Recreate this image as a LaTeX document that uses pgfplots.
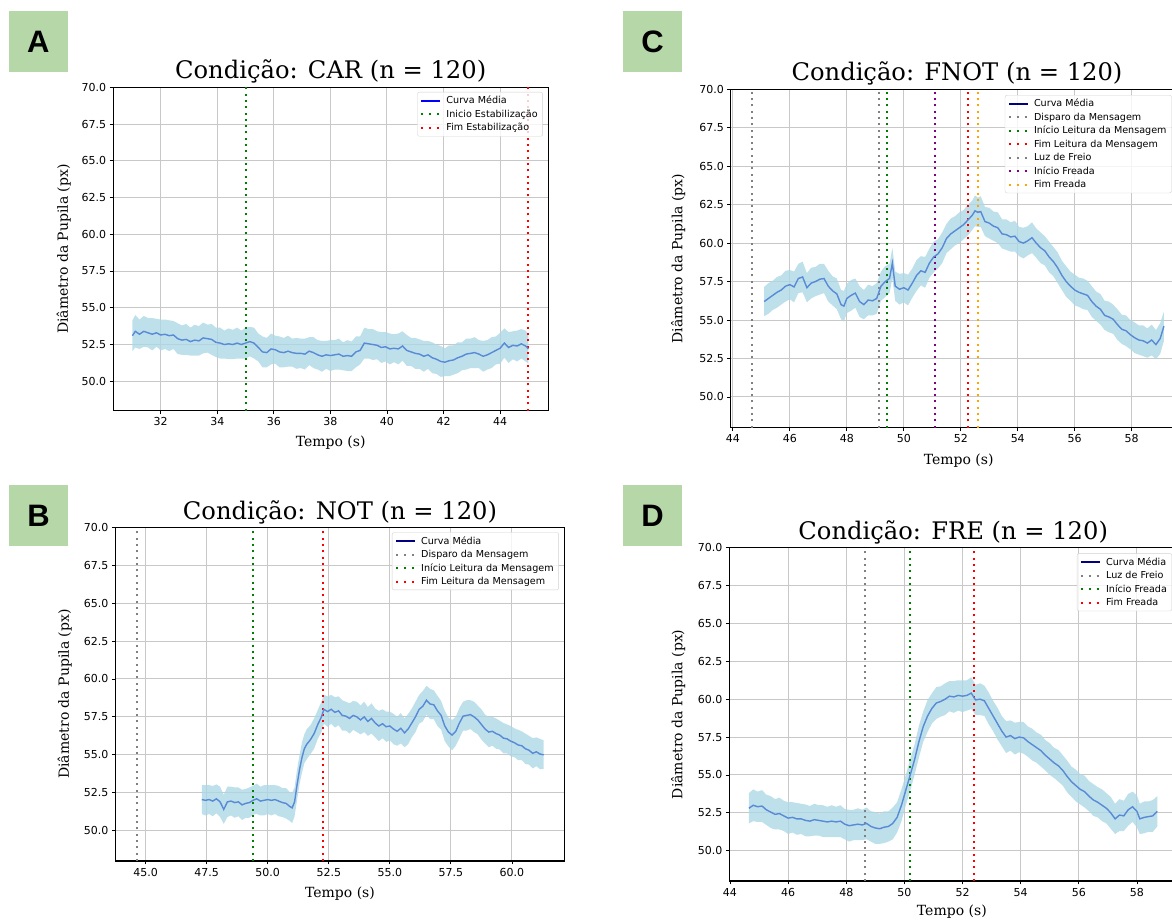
\documentclass[border=0pt]{standalone}
\usepackage{pgfplots}
\pgfplotsset{compat=1.18}
\usepackage{pgfplotstable}
\usepgfplotslibrary{fillbetween}
\usepackage{fontspec}
\setmainfont{DejaVu Serif}
\newfontfamily\dvs{DejaVu Sans}
\newfontfamily\lsans{Liberation Sans}

\definecolor{bandc}{RGB}{173,216,230}
\definecolor{linec}{RGB}{88,138,214}
\definecolor{gridc}{RGB}{200,200,200}
\definecolor{legc}{RGB}{210,210,210}
\definecolor{mgreen}{RGB}{0,128,0}
\definecolor{mred}{RGB}{255,0,0}
\definecolor{mgray}{RGB}{128,128,128}
\definecolor{mpurple}{RGB}{128,0,128}
\definecolor{morange}{RGB}{255,165,0}
\definecolor{mnavy}{RGB}{0,0,128}
\definecolor{mblue}{RGB}{0,0,255}
\definecolor{lgreen}{RGB}{182,215,168}

\pgfplotstableread{
t m s
31.00 53.10 1.05
31.10 53.40 1.10
31.25 53.20 1.00
31.40 53.40 1.05
31.55 53.30 1.00
31.70 53.20 1.10
31.85 53.30 0.95
32.00 53.15 1.05
32.15 53.20 1.00
32.30 53.10 1.05
32.45 53.15 0.95
32.60 52.90 1.05
32.75 52.80 1.00
32.90 52.85 1.05
33.05 52.70 0.95
33.20 52.80 1.05
33.35 52.75 1.00
33.50 52.95 1.05
33.65 52.90 0.95
33.80 52.85 1.05
33.95 52.65 1.00
34.10 52.60 1.05
34.25 52.50 0.95
34.40 52.55 1.05
34.55 52.50 1.00
34.70 52.60 1.05
34.85 52.50 0.95
35.00 52.60 1.05
35.15 52.70 1.00
35.30 52.60 1.05
35.45 52.30 0.95
35.60 52.00 1.05
35.75 51.95 1.00
35.90 52.20 1.05
36.05 52.15 0.95
36.20 52.00 1.05
36.35 51.95 1.00
36.50 52.05 1.05
36.65 51.95 0.95
36.80 51.90 1.05
36.95 51.90 1.00
37.10 51.85 1.05
37.25 52.05 0.95
37.40 51.95 1.05
37.55 51.80 1.00
37.70 51.70 1.05
37.85 51.80 0.95
38.00 51.75 1.05
38.15 51.80 1.00
38.30 51.85 1.05
38.45 51.70 0.95
38.60 51.75 1.05
38.75 51.70 1.00
38.90 52.00 1.05
39.05 52.10 0.95
39.20 52.60 1.05
39.35 52.55 1.00
39.50 52.50 1.05
39.65 52.45 0.95
39.80 52.30 1.05
39.95 52.35 1.00
40.10 52.20 1.05
40.25 52.25 0.95
40.40 52.20 1.05
40.55 52.40 1.00
40.70 52.10 1.05
40.85 52.00 0.95
41.00 51.90 1.05
41.15 51.85 1.00
41.30 51.70 1.05
41.45 51.80 0.95
41.60 51.60 1.05
41.75 51.50 1.00
41.90 51.35 1.05
42.05 51.30 0.95
42.20 51.40 1.05
42.35 51.45 1.00
42.50 51.60 1.05
42.65 51.70 0.95
42.80 51.85 1.05
42.95 51.90 1.00
43.10 51.95 1.05
43.25 51.85 0.95
43.40 51.70 1.05
43.55 51.80 1.00
43.70 51.95 1.05
43.85 52.10 0.95
44.00 52.25 1.05
44.15 52.60 1.00
44.30 52.30 1.05
44.45 52.45 0.95
44.60 52.40 1.05
44.75 52.55 1.00
44.90 52.40 1.05
45.00 52.20 1.00
}\tA

\pgfplotstableread{
t m s
47.30 52.05 0.95
47.45 52.00 1.00
47.60 52.05 0.95
47.75 51.95 1.00
47.90 52.10 0.95
48.05 51.90 1.00
48.20 51.40 0.95
48.35 51.90 1.00
48.50 51.95 0.95
48.65 51.85 1.00
48.80 51.90 0.95
48.95 51.70 1.00
49.10 51.80 0.95
49.25 51.85 1.00
49.40 52.00 0.95
49.55 52.10 1.00
49.70 51.95 0.95
49.85 52.00 1.00
50.00 52.05 0.95
50.15 52.00 1.00
50.30 52.05 0.95
50.45 51.95 1.00
50.60 51.85 0.95
50.75 51.80 1.00
50.90 51.60 0.95
51.00 51.50 1.00
51.10 51.90 0.95
51.20 53.00 1.00
51.30 54.00 0.95
51.40 54.80 1.00
51.50 55.40 0.95
51.60 55.70 1.00
51.75 56.00 0.95
51.90 56.40 1.00
52.05 57.00 0.95
52.20 57.50 1.00
52.30 58.00 0.95
52.45 57.85 1.00
52.60 58.00 0.95
52.75 57.80 1.00
52.90 57.90 0.95
53.05 57.60 1.00
53.20 57.55 0.95
53.35 57.40 1.00
53.50 57.60 0.95
53.65 57.50 1.00
53.80 57.30 0.95
53.95 57.50 1.00
54.10 57.20 0.95
54.25 57.40 1.00
54.40 57.10 0.95
54.55 56.90 1.00
54.70 57.05 0.95
54.85 56.85 1.00
55.00 56.90 0.95
55.15 56.70 1.00
55.30 56.55 0.95
55.45 56.75 1.00
55.60 56.45 0.95
55.75 56.70 1.00
55.90 57.10 0.95
56.05 57.50 1.00
56.20 58.00 0.95
56.35 58.20 1.00
56.50 58.60 0.95
56.65 58.35 1.00
56.80 58.30 0.95
56.95 57.90 1.00
57.10 57.60 0.95
57.25 56.90 1.00
57.40 56.50 0.95
57.55 56.30 1.00
57.70 56.55 0.95
57.85 57.10 1.00
58.00 57.55 0.95
58.15 57.60 1.00
58.30 57.65 0.95
58.45 57.50 1.00
58.60 57.30 0.95
58.75 57.00 1.00
58.90 56.70 0.95
59.05 56.50 1.00
59.20 56.55 0.95
59.35 56.40 1.00
59.50 56.30 0.95
59.65 56.10 1.00
59.80 56.05 0.95
59.95 55.90 1.00
60.10 55.80 0.95
60.25 55.65 1.00
60.40 55.60 0.95
60.55 55.40 1.00
60.70 55.30 0.95
60.85 55.10 1.00
61.00 55.20 0.95
61.15 55.05 1.00
61.30 55.00 0.95
}\tB

\pgfplotstableread{
t m s
45.10 56.20 0.95
45.25 56.40 1.00
45.40 56.60 0.95
45.55 56.80 1.00
45.70 56.95 0.95
45.85 57.20 1.00
46.00 57.30 0.95
46.15 57.15 1.00
46.30 57.70 0.95
46.45 57.80 1.00
46.60 57.10 0.95
46.75 57.40 1.00
46.90 57.50 0.95
47.05 57.65 1.00
47.20 57.70 0.95
47.35 57.20 1.00
47.50 56.90 0.95
47.65 56.70 1.00
47.80 56.00 0.95
47.90 55.90 1.00
48.00 56.40 0.95
48.15 56.60 1.00
48.30 56.75 0.95
48.45 56.20 1.00
48.60 56.00 0.95
48.75 56.30 1.00
48.90 56.25 0.95
49.05 56.40 1.00
49.20 57.20 0.95
49.35 57.50 1.00
49.50 57.70 0.95
49.60 58.70 1.00
49.70 57.20 0.95
49.85 57.00 1.00
50.00 57.10 0.95
50.15 56.95 1.00
50.30 57.40 0.95
50.45 57.90 1.00
50.60 58.20 0.95
50.75 58.10 1.00
50.90 58.70 0.95
51.05 59.10 1.00
51.20 59.30 0.95
51.35 59.70 1.00
51.50 60.30 0.95
51.65 60.60 1.00
51.80 60.80 0.95
51.95 61.00 1.00
52.10 61.20 0.95
52.25 61.50 1.00
52.40 61.80 0.95
52.50 62.10 1.00
52.60 62.00 0.95
52.70 62.05 1.00
52.85 61.40 0.95
53.00 61.30 1.00
53.15 61.10 0.95
53.30 61.00 1.00
53.45 60.60 0.95
53.60 60.55 1.00
53.75 60.40 0.95
53.90 60.45 1.00
54.05 60.10 0.95
54.20 60.00 1.00
54.35 60.15 0.95
54.50 60.35 1.00
54.65 60.00 0.95
54.80 59.70 1.00
54.95 59.50 0.95
55.10 59.10 1.00
55.25 58.80 0.95
55.40 58.40 1.00
55.55 57.90 0.95
55.70 57.50 1.00
55.85 57.20 0.95
56.00 56.95 1.00
56.15 56.80 0.95
56.30 56.70 1.00
56.45 56.60 0.95
56.60 56.20 1.00
56.75 55.90 0.95
56.90 55.70 1.00
57.05 55.30 0.95
57.20 55.20 1.00
57.35 55.05 0.95
57.50 54.70 1.00
57.65 54.40 0.95
57.80 54.30 1.00
57.95 54.05 0.95
58.10 53.85 1.00
58.25 53.70 0.95
58.40 53.65 1.00
58.55 53.50 0.95
58.70 53.70 1.00
58.85 53.40 0.95
59.00 53.80 1.00
59.13 54.60 0.95
}\tC

\pgfplotstableread{
t m s
44.65 52.80 1.00
44.80 53.00 1.05
44.95 52.90 1.00
45.10 52.95 1.05
45.25 52.70 1.00
45.40 52.55 1.05
45.55 52.40 1.00
45.70 52.45 1.05
45.85 52.30 1.00
46.00 52.15 1.05
46.15 52.20 1.00
46.30 52.10 1.05
46.45 52.10 1.00
46.60 52.00 1.05
46.75 51.95 1.00
46.90 52.05 1.05
47.05 52.00 1.00
47.20 51.95 1.05
47.35 51.90 1.00
47.50 51.95 1.05
47.65 51.90 1.00
47.80 51.95 1.05
47.95 51.75 1.00
48.10 51.65 1.05
48.25 51.70 1.00
48.40 51.75 1.05
48.55 51.70 1.00
48.70 51.80 1.05
48.85 51.60 1.00
49.00 51.50 1.05
49.15 51.45 1.00
49.30 51.55 1.05
49.45 51.60 1.00
49.60 51.80 1.05
49.75 52.20 1.00
49.90 53.00 1.05
50.05 54.00 1.00
50.20 55.00 1.05
50.35 56.00 1.00
50.50 57.20 1.05
50.65 58.20 1.00
50.80 58.90 1.05
50.95 59.40 1.00
51.10 59.75 1.05
51.25 59.85 1.00
51.40 60.00 1.05
51.55 60.20 1.00
51.70 60.15 1.05
51.85 60.25 1.00
52.00 60.20 1.05
52.15 60.25 1.00
52.30 60.40 1.05
52.45 59.95 1.00
52.60 60.00 1.05
52.75 59.90 1.00
52.90 59.40 1.05
53.05 58.90 1.00
53.20 58.40 1.05
53.35 57.90 1.00
53.50 57.50 1.05
53.65 57.60 1.00
53.80 57.40 1.05
53.95 57.50 1.00
54.10 57.45 1.05
54.25 57.20 1.00
54.40 57.00 1.05
54.55 56.80 1.00
54.70 56.60 1.05
54.85 56.30 1.00
55.00 56.05 1.05
55.15 55.80 1.00
55.30 55.60 1.05
55.45 55.30 1.00
55.60 54.90 1.05
55.75 54.55 1.00
55.90 54.30 1.05
56.05 54.05 1.00
56.20 53.90 1.05
56.35 53.60 1.00
56.50 53.35 1.05
56.65 53.20 1.00
56.80 53.00 1.05
56.95 52.80 1.00
57.10 52.50 1.05
57.25 52.10 1.00
57.40 52.35 1.05
57.55 52.30 1.00
57.70 52.70 1.05
57.85 52.90 1.00
58.00 52.60 1.05
58.10 52.10 1.00
58.25 52.20 1.05
58.40 52.25 1.00
58.55 52.30 1.05
58.70 52.60 1.00
}\tD

\pgfplotsset{
  panel/.style={
    scale only axis,
    ymin=48, ymax=70,
    ytick={50,52.5,55,57.5,60,62.5,65,67.5,70},
    yticklabel style={/pgf/number format/fixed, /pgf/number format/fixed zerofill, /pgf/number format/precision=1},
    tick align=outside, major tick length=3.5pt,
    tick pos=left,
    tick style={black, line width=0.8pt},
    axis line style={black, line width=1.1pt},
    grid=major, major grid style={gridc, line width=1pt},
    tick label style={font=\dvs\fontsize{11}{13}\selectfont},
    /pgf/number format/assume math mode=true,
    label style={font=\fontsize{14}{16}\selectfont},
    xlabel={Tempo (s)},
    ylabel={Diâmetro da Pupila (px)},
    xlabel style={anchor=center},
    ylabel style={anchor=center},
    legend cell align=left,
    legend style={font=\dvs\fontsize{9.6}{11}\selectfont, draw=legc, rounded corners=2pt,
      fill=white, fill opacity=0.8, text opacity=1, draw opacity=1,
      inner xsep=3pt, inner ysep=2pt, row sep=0.5pt, column sep=3pt, anchor=north east},
    legend image code/.code={\draw[##1] (0pt,0pt) -- (19pt,0pt);},
  },
  vl/.style={line width=2pt, dash pattern=on 2pt off 4.3pt, forget plot},
  vlleg/.style={line width=2pt, dash pattern=on 2pt off 5.8pt},
}

\begin{document}
\begin{tikzpicture}[x=1pt,y=1pt]

% ---------- A ----------
\begin{axis}[panel, at={(113.2pt,509.3pt)}, anchor=south west,
  width=435pt, height=323.4pt, xmin=30.32, xmax=45.7, xtick={32,34,...,44},
  xlabel style={at={(axis description cs:0.5,-0.0999)}},
  ylabel style={at={(axis description cs:-0.114,0.5)}},
  legend style={at={(axis description cs:0.9878,0.9855)}}]
\addlegendimage{mblue, line width=1.5pt}
\addlegendentry{Curva Média}
\addlegendimage{mgreen, vlleg}
\addlegendentry{Inicio Estabilização}
\addlegendimage{mred, vlleg}
\addlegendentry{Fim Estabilização}
\addplot[mgreen, vl] coordinates {(35,48) (35,70)};
\addplot[mred, vl] coordinates {(45,48) (45,70)};
\addplot[draw=none, name path=aU, forget plot] table[x=t, y expr=\thisrow{m}+\thisrow{s}] {\tA};
\addplot[draw=none, name path=aL, forget plot] table[x=t, y expr=\thisrow{m}-\thisrow{s}] {\tA};
\addplot[bandc, fill opacity=0.8, forget plot] fill between[of=aU and aL];
\addplot[linec, line width=1.4pt, forget plot] table[x=t, y=m] {\tA};
\end{axis}

% ---------- B ----------
\begin{axis}[panel, at={(115.3pt,59pt)}, anchor=south west,
  width=449.4pt, height=333.7pt, xmin=43.76, xmax=62.16,
  xtick={45,47.5,50,52.5,55,57.5,60},
  xticklabel style={/pgf/number format/fixed, /pgf/number format/fixed zerofill, /pgf/number format/precision=1},
  xlabel style={at={(axis description cs:0.5,-0.0989)}},
  ylabel style={at={(axis description cs:-0.1126,0.5)}},
  legend style={at={(axis description cs:0.987,0.985)}}]
\addlegendimage{mnavy, line width=1.5pt}
\addlegendentry{Curva Média}
\addlegendimage{mgray, vlleg}
\addlegendentry{Disparo da Mensagem}
\addlegendimage{mgreen, vlleg}
\addlegendentry{Início Leitura da Mensagem}
\addlegendimage{mred, vlleg}
\addlegendentry{Fim Leitura da Mensagem}
\addplot[mgray, vl] coordinates {(44.64,48) (44.64,70)};
\addplot[mgreen, vl] coordinates {(49.39,48) (49.39,70)};
\addplot[mred, vl] coordinates {(52.26,48) (52.26,70)};
\addplot[draw=none, name path=bU, forget plot] table[x=t, y expr=\thisrow{m}+\thisrow{s}] {\tB};
\addplot[draw=none, name path=bL, forget plot] table[x=t, y expr=\thisrow{m}-\thisrow{s}] {\tB};
\addplot[bandc, fill opacity=0.8, forget plot] fill between[of=bU and bL];
\addplot[linec, line width=1.4pt, forget plot] table[x=t, y=m] {\tB};
\end{axis}

% ---------- C ----------
\begin{axis}[panel, at={(730.8pt,492.3pt)}, anchor=south west,
  width=452.2pt, height=338.4pt, xmin=43.93, xmax=59.8,
  xtick={44,46,...,58},
  xlabel style={at={(axis description cs:0.504,-0.0984)}},
  ylabel style={at={(axis description cs:-0.1165,0.5)}},
  legend style={at={(axis description cs:0.975,0.983)}}]
\addlegendimage{mnavy, line width=1.5pt}
\addlegendentry{Curva Média}
\addlegendimage{mgray, vlleg}
\addlegendentry{Disparo da Mensagem}
\addlegendimage{mgreen, vlleg}
\addlegendentry{Início Leitura da Mensagem}
\addlegendimage{mred, vlleg}
\addlegendentry{Fim Leitura da Mensagem}
\addlegendimage{mgray, vlleg}
\addlegendentry{Luz de Freio}
\addlegendimage{mpurple, vlleg}
\addlegendentry{Início Freada}
\addlegendimage{morange, vlleg}
\addlegendentry{Fim Freada}
\addplot[mgray, vl] coordinates {(44.67,48) (44.67,70)};
\addplot[mgray, vl] coordinates {(49.12,48) (49.12,70)};
\addplot[mgreen, vl] coordinates {(49.42,48) (49.42,70)};
\addplot[mpurple, vl] coordinates {(51.09,48) (51.09,70)};
\addplot[mred, vl] coordinates {(52.27,48) (52.27,70)};
\addplot[morange, vl] coordinates {(52.59,48) (52.59,70)};
\addplot[draw=none, name path=cU, forget plot] table[x=t, y expr=\thisrow{m}+\thisrow{s}] {\tC};
\addplot[draw=none, name path=cL, forget plot] table[x=t, y expr=\thisrow{m}-\thisrow{s}] {\tC};
\addplot[bandc, fill opacity=0.8, forget plot] fill between[of=cU and cL];
\addplot[linec, line width=1.4pt, forget plot] table[x=t, y=m] {\tC};
\end{axis}

% ---------- D ----------
\begin{axis}[panel, at={(729.4pt,39pt)}, anchor=south west,
  width=447.6pt, height=333.3pt, xmin=43.98, xmax=59.38,
  xtick={44,46,...,58},
  xlabel style={at={(axis description cs:0.497,-0.093)}},
  ylabel style={at={(axis description cs:-0.1146,0.5)}},
  legend style={at={(axis description cs:0.989,0.983)}}]
\addlegendimage{mnavy, line width=1.5pt}
\addlegendentry{Curva Média}
\addlegendimage{mgray, vlleg}
\addlegendentry{Luz de Freio}
\addlegendimage{mgreen, vlleg}
\addlegendentry{Início Freada}
\addlegendimage{mred, vlleg}
\addlegendentry{Fim Freada}
\addplot[mgray, vl] coordinates {(48.66,48) (48.66,70)};
\addplot[mgreen, vl] coordinates {(50.2,48) (50.2,70)};
\addplot[mred, vl] coordinates {(52.38,48) (52.38,70)};
\addplot[draw=none, name path=dU, forget plot] table[x=t, y expr=\thisrow{m}+\thisrow{s}] {\tD};
\addplot[draw=none, name path=dL, forget plot] table[x=t, y expr=\thisrow{m}-\thisrow{s}] {\tD};
\addplot[bandc, fill opacity=0.8, forget plot] fill between[of=dU and dL];
\addplot[linec, line width=1.4pt, forget plot] table[x=t, y=m] {\tD};
\end{axis}

% titles
\node[anchor=base, font=\fontsize{24.2}{28}\selectfont] at (330.7,841) {Condição: CAR (n = 120)};
\node[anchor=base, font=\fontsize{24.2}{28}\selectfont] at (340,400.7) {Condição: NOT (n = 120)};
\node[anchor=base, font=\fontsize{24.2}{28}\selectfont] at (957,839) {Condição: FNOT (n = 120)};
\node[anchor=base, font=\fontsize{24.2}{28}\selectfont] at (953.2,380.7) {Condição: FRE (n = 120)};

% panel letters
\fill[lgreen] (8.9,909) rectangle (67.9,848.3);
\node[font=\lsans\bfseries\fontsize{31}{31}\selectfont] at (38.4,878.6) {A};
\fill[lgreen] (9.1,435) rectangle (68,374);
\node[font=\lsans\bfseries\fontsize{31}{31}\selectfont] at (38.5,404.5) {B};
\fill[lgreen] (623.3,909) rectangle (681.7,848.3);
\node[font=\lsans\bfseries\fontsize{31}{31}\selectfont] at (652.5,878.6) {C};
\fill[lgreen] (623.3,435) rectangle (681.7,374);
\node[font=\lsans\bfseries\fontsize{31}{31}\selectfont] at (652.5,404.5) {D};
\pgfresetboundingbox
\path (0,0) rectangle (1172,920);
\end{tikzpicture}
\end{document}
